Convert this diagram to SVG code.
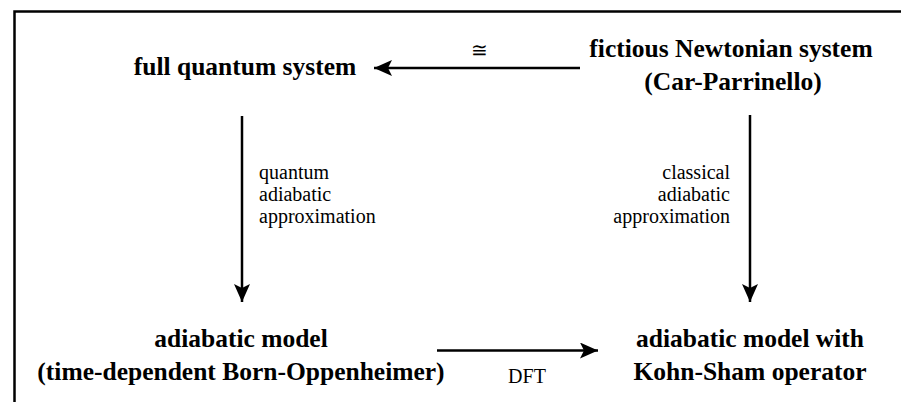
<svg xmlns="http://www.w3.org/2000/svg" width="901" height="402" viewBox="0 0 901 402">
<style>
.b{font-family:"Liberation Serif","DejaVu Serif","Times New Roman",serif;font-weight:bold;font-size:25.5px;fill:#000;text-anchor:middle}
.l{font-family:"Liberation Serif","DejaVu Serif","Times New Roman",serif;font-size:20px;fill:#000}
.c{stroke:#000;stroke-width:2.5;fill:none}
</style>
<defs>
<marker id="ah" viewBox="0 0 18 16" refX="18" refY="8" markerWidth="18" markerHeight="16" markerUnits="userSpaceOnUse" orient="auto">
<path d="M0,0 L18,8 L0,16 L4,8 Z" fill="#000"/>
</marker>
</defs>
<path d="M14.5,402 V11.5 H901" stroke="#000" stroke-width="2.5" fill="none"/>
<g id="connectors">
<line class="c" x1="580" y1="68" x2="374" y2="68" marker-end="url(#ah)"/>
<line class="c" x1="242" y1="116" x2="242" y2="302" marker-end="url(#ah)"/>
<line class="c" x1="750" y1="115" x2="750" y2="302" marker-end="url(#ah)"/>
<line class="c" x1="437" y1="350.5" x2="598" y2="350.5" marker-end="url(#ah)"/>
<text class="l" x="479" y="57" text-anchor="middle" font-size="30">≅</text>
<text class="l" x="259" y="179">quantum</text>
<text class="l" x="259" y="201">adiabatic</text>
<text class="l" x="259" y="223">approximation</text>
<text class="l" x="730" y="179" text-anchor="end">classical</text>
<text class="l" x="730" y="201" text-anchor="end">adiabatic</text>
<text class="l" x="730" y="223" text-anchor="end">approximation</text>
<text class="l" x="527" y="383" text-anchor="middle" font-size="18">DFT</text>
</g>
<g id="n-full">
<text class="b" x="245" y="75">full quantum system</text>
</g>
<g id="n-newton">
<text class="b" x="731" y="57">fictious Newtonian system</text>
<text class="b" x="733" y="90">(Car-Parrinello)</text>
</g>
<g id="n-adiabatic">
<text class="b" x="241" y="347">adiabatic model</text>
<text class="b" x="241" y="380">(time-dependent Born-Oppenheimer)</text>
</g>
<g id="n-kohn">
<text class="b" x="750" y="347">adiabatic model with</text>
<text class="b" x="750" y="380">Kohn-Sham operator</text>
</g>
</svg>
